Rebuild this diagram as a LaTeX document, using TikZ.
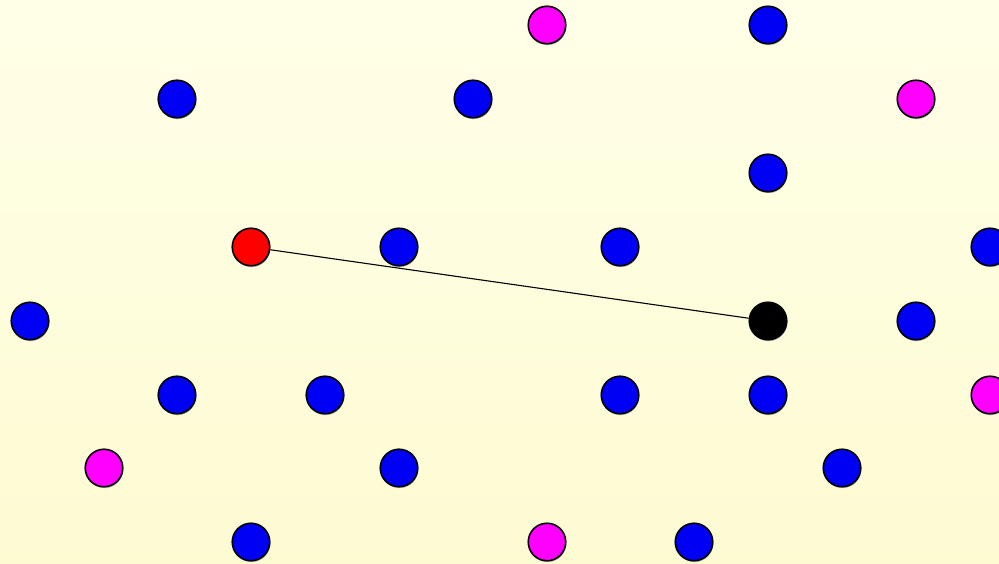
\documentclass[tikz,border=0pt]{standalone}
\usetikzlibrary{shadows}
\definecolor{bgtop}{RGB}{255,255,232}
\definecolor{bgbot}{RGB}{253,251,210}
\definecolor{dotblue}{RGB}{0,0,245}
\definecolor{dotmag}{RGB}{255,0,255}
\definecolor{dotred}{RGB}{255,0,0}
\tikzset{
  dot/.style={circle, draw=black, line width=1.6pt, minimum size=37.5pt, inner sep=0pt,
    drop shadow={shadow xshift=0.6pt, shadow yshift=-1.4pt, fill=black!35, opacity=0.8}},
  bdot/.style={dot, fill=dotblue},
  mdot/.style={dot, fill=dotmag},
  rdot/.style={dot, fill=dotred},
  kdot/.style={dot, fill=black},
  link/.style={draw=black, line width=1.1pt}
}
\begin{document}
\begin{tikzpicture}[x=1pt,y=-1pt]
\useasboundingbox (0,0) rectangle (999,564);
\shade[top color=bgtop, bottom color=bgbot] (0,0) rectangle (999,564);
\begin{scope}
\clip (0,0) rectangle (999,564);
% row 1
\node[mdot] (m1) at (547,25) {};
\node[bdot] (b1) at (768,25) {};
% row 2
\node[bdot] (b2) at (177,99) {};
\node[bdot] (b3) at (473,99) {};
\node[mdot] (m2) at (916,99) {};
% row 3
\node[bdot] (b4) at (768,173) {};
% row 4
\node[rdot] (r) at (251,247) {};
\node[bdot] (b5) at (399,247) {};
\node[bdot] (b6) at (620,247) {};
\node[bdot] (b7) at (990,247) {};
% row 5
\node[bdot] (b8) at (30,321) {};
\node[kdot] (k) at (768,321) {};
\node[bdot] (b9) at (916,321) {};
% row 6
\node[bdot] (b10) at (177,395) {};
\node[bdot] (b11) at (325,395) {};
\node[bdot] (b12) at (620,395) {};
\node[bdot] (b13) at (768,395) {};
\node[mdot] (m3) at (990,395) {};
% row 7
\node[mdot] (m4) at (104,468) {};
\node[bdot] (b14) at (399,468) {};
\node[bdot] (b15) at (842,468) {};
% row 8
\node[bdot] (b16) at (251,542) {};
\node[mdot] (m5) at (547,542) {};
\node[bdot] (b17) at (694,542) {};
\draw[link] (r) -- (k);
\end{scope}
\end{tikzpicture}
\end{document}
